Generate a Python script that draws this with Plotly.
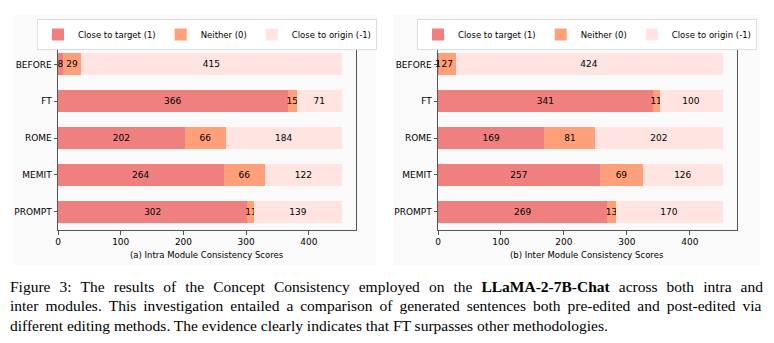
import plotly.graph_objects as go
from plotly.subplots import make_subplots

methods = ["BEFORE", "FT", "ROME", "MEMIT", "PROMPT"]
series_names = ["Close to target (1)", "Neither (0)", "Close to origin (-1)"]
colors = ["#F08080", "#FFA07A", "#FFE4E1"]

intra_target = [8, 366, 202, 264, 302]
intra_neither = [29, 15, 66, 66, 11]
intra_origin = [415, 71, 184, 122, 139]

inter_target = [1, 341, 169, 257, 269]
inter_neither = [27, 11, 81, 69, 13]
inter_origin = [424, 100, 202, 126, 170]

x_ticks = [0, 100, 200, 300, 400]

# page body has an 8px margin, so lay out in page pixels and convert
OFF = 8
W, H = 774 - OFF, 343 - OFF


def px(x):
    return (x - OFF) / W


def py(y):
    return 1 - (y - OFF) / H


fig = make_subplots(rows=1, cols=2)

panels = [
    (1, "legend", [intra_target, intra_neither, intra_origin]),
    (2, "legend2", [inter_target, inter_neither, inter_origin]),
]
for col, leg, vals in panels:
    for name, color, v in zip(series_names, colors, vals):
        fig.add_trace(go.Bar(
            y=methods, x=v, orientation="h", name=name, legend=leg,
            marker=dict(color=color, line=dict(width=0)),
            text=[str(t) for t in v], textposition="inside",
            insidetextanchor="middle", textangle=0, constraintext="none",
            textfont=dict(family="DejaVu Sans", size=9, color="black"),
            width=0.6, hoverinfo="skip",
        ), row=1, col=col)
    # bars thinner than a pixel get no text from plotly, label them by hand
    for m, v in zip(methods, vals[0]):
        if v < 2:
            fig.add_annotation(x=v / 2, y=m, text=str(v), showarrow=False,
                               xref="x%d" % col if col > 1 else "x",
                               yref="y%d" % col if col > 1 else "y",
                               font=dict(family="DejaVu Sans", size=9, color="black"))

axis_common = dict(
    showline=True, linecolor="#555555", linewidth=1, mirror=True,
    ticks="outside", ticklen=3.5, tickcolor="#555555", showgrid=False,
    zeroline=False, automargin=False,
    tickfont=dict(family="DejaVu Sans", size=9, color="black"),
)

legend_common = dict(
    orientation="h", xanchor="center", yanchor="top", y=py(19),
    bgcolor="white", bordercolor="#dddddd", borderwidth=1,
    font=dict(family="DejaVu Sans", size=8.5, color="black"),
    itemwidth=30, tracegroupgap=0, traceorder="normal",
)

fig.update_layout(
    width=W, height=H, barmode="stack",
    margin=dict(l=0, r=0, t=0, b=0, autoexpand=False),
    paper_bgcolor="white", plot_bgcolor="white",
    xaxis=dict(domain=[px(58), px(356)], range=[0, 475], tickvals=x_ticks, **axis_common),
    xaxis2=dict(domain=[px(438), px(737)], range=[0, 475], tickvals=x_ticks, **axis_common),
    yaxis=dict(domain=[py(230), py(46)], autorange="reversed", **axis_common),
    yaxis2=dict(domain=[py(230), py(46)], autorange="reversed", **axis_common),
    legend=dict(x=px(207), **legend_common),
    legend2=dict(x=px(587), **legend_common),
    bargap=0.4,
)

# faint figure backgrounds
for x0, x1 in [(13, 376), (393, 760)]:
    fig.add_shape(type="rect", xref="paper", yref="paper",
                  x0=px(x0), x1=px(x1), y0=py(265), y1=py(15),
                  fillcolor="#fafafa", line=dict(width=0), layer="below")

fig.add_annotation(text="(a) Intra Module Consistency Scores", xref="paper", yref="paper",
                   x=px(207), y=py(255), xanchor="center", yanchor="middle", showarrow=False,
                   font=dict(family="DejaVu Sans", size=8.5, color="black"))
fig.add_annotation(text="(b) Inter Module Consistency Scores", xref="paper", yref="paper",
                   x=px(587), y=py(255), xanchor="center", yanchor="middle", showarrow=False,
                   font=dict(family="DejaVu Sans", size=8.5, color="black"))

caption = [
    "Figure 3: The results of the Concept Consistency employed on the <b>LLaMA-2-7B-Chat</b> across both intra and",
    "inter modules. This investigation entailed a comparison of generated sentences both pre-edited and post-edited via",
    "different editing methods. The evidence clearly indicates that FT surpasses other methodologies.",
]
# widen the word gaps of the first two lines to look justified
gaps = [" \u2004", " \u2009", " "]
for i, (line, gap) in enumerate(zip(caption, gaps)):
    fig.add_annotation(text=line.replace(" ", gap), xref="paper", yref="paper", x=px(8),
                       y=py(286 + 19.5 * i), xanchor="left", yanchor="middle",
                       showarrow=False,
                       font=dict(family="Liberation Serif", size=15.5, color="black"))

fig.write_html("out.html")
